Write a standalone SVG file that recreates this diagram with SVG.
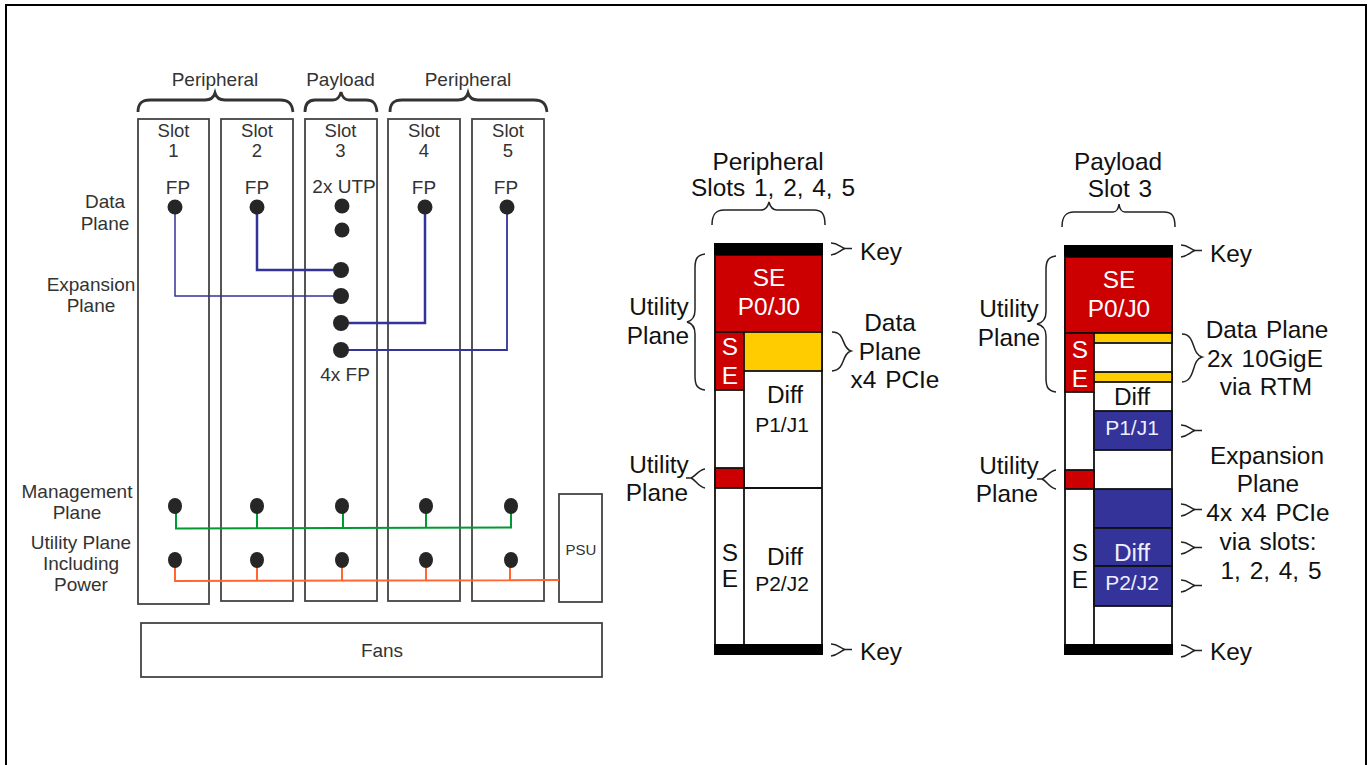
<svg xmlns="http://www.w3.org/2000/svg" width="1372" height="765" viewBox="0 0 1372 765">
<style>
text{font-family:"Liberation Sans",Arial,sans-serif;text-anchor:middle}
.g{fill:#333}
.s18{font-size:19px}.s17{font-size:18.500px}.s14{font-size:15px}
.k{fill:#111;font-size:24.400px;word-spacing:2px}.k20{fill:#111;font-size:21px}
.w{fill:#fff;font-size:24.400px}.w20{fill:#eef;font-size:21px}
.slot{fill:#fff;stroke:#444;stroke-width:1.800}
.dot{fill:#262626}
.brace{fill:none;stroke:#333;stroke-width:2.800}
.thin{fill:none;stroke:#222;stroke-width:1.500}
.cell{stroke:#111;stroke-width:1.800}
.bk{fill:#000}
.red{fill:#c00}.yel{fill:#fc0}.blu{fill:#339}.wht{fill:#fff}
.line{fill:none}
</style>
<rect x="6" y="5" width="1360" height="800" fill="#fff" stroke="#000" stroke-width="2"/>
<g id="slot1"><rect class="slot" x="138" y="119" width="71" height="485"/><text class="g s17" x="173.500" y="137">Slot</text><text class="g s17" x="173.500" y="157">1</text><text class="g s18" x="178" y="194">FP</text></g>
<g id="slot2"><rect class="slot" x="221" y="119" width="72" height="482"/><text class="g s17" x="257" y="137">Slot</text><text class="g s17" x="257" y="157">2</text><text class="g s18" x="257" y="194">FP</text></g>
<g id="slot3"><rect class="slot" x="305" y="119" width="72" height="482"/><text class="g s17" x="340.500" y="137">Slot</text><text class="g s17" x="340.500" y="157">3</text><text class="g s18" x="344" y="193">2x UTP</text><text class="g s18" x="345" y="381">4x FP</text></g>
<g id="slot4"><rect class="slot" x="388" y="119" width="72" height="482"/><text class="g s17" x="424" y="137">Slot</text><text class="g s17" x="424" y="157">4</text><text class="g s18" x="424" y="194">FP</text></g>
<g id="slot5"><rect class="slot" x="472" y="119" width="72" height="482"/><text class="g s17" x="508" y="137">Slot</text><text class="g s17" x="508" y="157">5</text><text class="g s18" x="506" y="194">FP</text></g>
<g id="psu"><rect class="slot" x="559" y="494" width="43" height="108"/><text class="g s14" x="581" y="555">PSU</text></g>
<g id="fans"><rect class="slot" x="141" y="623" width="461" height="54"/><text class="g s18" x="382" y="657">Fans</text></g>
<g id="connectors">
<path class="line" stroke="#339" stroke-width="1.500" d="M175 207V296H341"/>
<path class="line" stroke="#339" stroke-width="2.500" d="M257 207V270H341"/>
<path class="line" stroke="#339" stroke-width="2.500" d="M341 323H425V207"/>
<path class="line" stroke="#339" stroke-width="1.800" d="M341 350H507V207"/>
<path class="line" stroke="#093" stroke-width="2" d="M176 506V528.500L511 527.500V506M257 506V528M343 506V528M426 506V528"/>
<path class="line" stroke="#f63" stroke-width="2" d="M175 560V581L559 580M257 560V581M342 560V581M426 560V581M510 560V580"/>
</g>
<g id="dots">
<circle class="dot" cx="175" cy="207" r="7.500"/><circle class="dot" cx="257" cy="207" r="7.500"/><circle class="dot" cx="342" cy="206" r="7.500"/><circle class="dot" cx="342" cy="230" r="7.500"/><circle class="dot" cx="425" cy="207" r="7.500"/><circle class="dot" cx="507" cy="207" r="7.500"/>
<circle class="dot" cx="341" cy="270" r="8"/><circle class="dot" cx="341" cy="296" r="8"/><circle class="dot" cx="341" cy="323" r="8"/><circle class="dot" cx="341" cy="350" r="8"/>
<ellipse class="dot" cx="175" cy="506" rx="7" ry="8"/><ellipse class="dot" cx="257" cy="506" rx="7" ry="8"/><ellipse class="dot" cx="342" cy="506" rx="7" ry="8"/><ellipse class="dot" cx="426" cy="506" rx="7" ry="8"/><ellipse class="dot" cx="511" cy="506" rx="7" ry="8"/>
<ellipse class="dot" cx="175" cy="560" rx="7" ry="8"/><ellipse class="dot" cx="257" cy="560" rx="7" ry="8"/><ellipse class="dot" cx="342" cy="560" rx="7" ry="8"/><ellipse class="dot" cx="426" cy="560" rx="7" ry="8"/><ellipse class="dot" cx="511" cy="560" rx="7" ry="8"/>
</g>
<g id="left-labels">
<path class="brace" d="M138 112C138 103 142 100 150 100H205Q213 100 215 93Q217 100 225 100H280C288 100 292 103 293 112"/>
<path class="brace" d="M305 112C305 103 309 100 315 100H333Q339 100 341 92Q343 100 349 100H366C373 100 376 103 377 112"/>
<path class="brace" d="M390 112C390 103 394 100 402 100H458Q466 100 468 93Q470 100 478 100H534C542 100 546 103 547 112"/>
<text class="g s18" x="215" y="86">Peripheral</text><text class="g s18" x="340.500" y="86">Payload</text><text class="g s18" x="468" y="86">Peripheral</text>
<text class="g s18" x="105" y="208">Data</text><text class="g s18" x="105" y="230">Plane</text>
<text class="g s18" x="91" y="291">Expansion</text><text class="g s18" x="91" y="312">Plane</text>
<text class="g s18" x="77" y="498">Management</text><text class="g s18" x="77" y="519">Plane</text>
<text class="g s18" x="81" y="549">Utility Plane</text><text class="g s18" x="81" y="570">Including</text><text class="g s18" x="81" y="591">Power</text>
</g>
<g id="peripheral-connector">
<rect class="wht cell" x="715" y="255" width="107" height="390"/>
<rect class="red cell" x="715" y="255" width="107" height="77"/>
<rect class="red cell" x="715" y="332" width="29" height="58"/>
<rect class="yel cell" x="744" y="332" width="78" height="39"/>
<rect class="red cell" x="715" y="468" width="29" height="20"/>
<path class="cell" fill="none" d="M744 390V645M744 488H822"/>
<rect class="bk" x="714" y="243" width="109" height="12"/><rect class="bk" x="714" y="644" width="109" height="11"/>
<path class="thin" d="M712 225C712 214 716 210 724 210H761Q767 210 769 202Q771 210 777 210H814C822 210 825 214 825 225"/>
<path class="thin" d="M705 254C697 255 695 259 695 268V310Q695 320 687 322Q695 324 695 334V376C695 385 697 389 705 390"/>
<path class="thin" d="M831 243C838 243 840 247 845 248.500H852H845C840 250 838 254 831 255"/>
<path class="thin" d="M832 332C846 332 841 348 851 351C841 354 846 370 832 371"/>
<path class="thin" d="M705 469C698 470 696 476 691 478H686H691C696 480 698 487 705 488"/>
<path class="thin" d="M831 644C838 644 840 648 845 649.500H852H845C840 651 838 655 831 656"/>
<text class="k" x="768" y="170">Peripheral</text><text class="k" x="773" y="196">Slots 1, 2, 4, 5</text>
<text class="w" x="769" y="286">SE</text><text class="w" x="769" y="315">P0/J0</text>
<text class="w" x="730" y="355">S</text><text class="w" x="730" y="384">E</text>
<text class="k" x="785" y="403">Diff</text><text class="k20" x="782" y="432">P1/J1</text>
<text class="k" x="785" y="565">Diff</text><text class="k20" x="782" y="591">P2/J2</text>
<text class="k" x="730" y="561">S</text><text class="k" x="730" y="587">E</text>
<text class="k" x="659" y="315">Utility</text><text class="k" x="658" y="344">Plane</text>
<text class="k" x="659" y="473">Utility</text><text class="k" x="657" y="501">Plane</text>
<text class="k" x="890" y="331">Data</text><text class="k" x="890" y="360">Plane</text><text class="k" x="895" y="388">x4 PCIe</text>
<text class="k" x="881" y="260">Key</text><text class="k" x="881" y="660">Key</text>
</g>
<g id="payload-connector">
<rect class="wht cell" x="1065" y="257" width="107" height="388"/>
<rect class="red cell" x="1065" y="257" width="107" height="76"/>
<rect class="red cell" x="1065" y="333" width="29" height="59"/>
<rect class="yel cell" x="1094" y="333" width="78" height="10"/>
<rect class="yel cell" x="1094" y="372" width="78" height="10"/>
<rect class="blu cell" x="1094" y="411" width="78" height="39"/>
<rect class="red cell" x="1065" y="470" width="29" height="19"/>
<rect class="blu cell" x="1094" y="489" width="78" height="39"/>
<rect class="blu cell" x="1094" y="528" width="78" height="38"/>
<rect class="blu cell" x="1094" y="566" width="78" height="40"/>
<path class="cell" fill="none" d="M1094 392V645"/>
<rect class="bk" x="1064" y="245" width="109" height="12"/><rect class="bk" x="1064" y="644" width="109" height="11"/>
<path class="thin" d="M1062 227C1062 216 1066 212 1074 212H1113Q1118 212 1119 204Q1120 212 1125 212H1164C1172 212 1175 216 1175 227"/>
<path class="thin" d="M1056 256C1048 257 1046 261 1046 270V312Q1046 322 1037 324Q1046 326 1046 336V378C1046 387 1048 391 1056 392"/>
<path class="thin" d="M1181 245C1188 245 1190 249 1195 250.500H1202H1195C1190 252 1188 256 1181 257"/>
<path class="thin" d="M1182 334C1196 334 1191 354 1202 357C1191 360 1196 381 1182 382"/>
<path class="thin" d="M1181 425C1188 425 1190 429 1195 430.500H1202H1195C1190 432 1188 436 1181 437"/>
<path class="thin" d="M1181 504C1188 504 1190 508 1195 509.500H1202H1195C1190 511 1188 515 1181 516"/>
<path class="thin" d="M1181 542C1188 542 1190 546 1195 547.500H1202H1195C1190 549 1188 553 1181 554"/>
<path class="thin" d="M1181 580C1188 580 1190 584 1195 585.500H1202H1195C1190 587 1188 591 1181 592"/>
<path class="thin" d="M1056 470C1049 471 1047 477 1042 479H1037H1042C1047 481 1049 488 1056 489"/>
<path class="thin" d="M1181 645C1188 645 1190 649 1195 650.500H1202H1195C1190 652 1188 656 1181 657"/>
<text class="k" x="1118" y="170">Payload</text><text class="k" x="1120" y="197">Slot 3</text>
<text class="w" x="1119" y="288">SE</text><text class="w" x="1119" y="317">P0/J0</text>
<text class="w" x="1080" y="358">S</text><text class="w" x="1080" y="387">E</text>
<text class="k" x="1132" y="405">Diff</text><text class="w20" x="1132" y="435">P1/J1</text>
<text class="w" style="fill:#eef" x="1132" y="561">Diff</text><text class="w20" x="1132" y="590">P2/J2</text>
<text class="k" x="1080" y="561">S</text><text class="k" x="1080" y="588">E</text>
<text class="k" x="1009" y="317">Utility</text><text class="k" x="1009" y="346">Plane</text>
<text class="k" x="1009" y="474">Utility</text><text class="k" x="1007" y="502">Plane</text>
<text class="k" x="1267" y="338">Data Plane</text><text class="k" x="1265" y="367">2x 10GigE</text><text class="k" x="1266" y="395">via RTM</text>
<text class="k" x="1267" y="464">Expansion</text><text class="k" x="1268" y="492">Plane</text><text class="k" x="1268" y="521">4x x4 PCIe</text><text class="k" x="1268" y="550">via slots:</text><text class="k" x="1271" y="579">1, 2, 4, 5</text>
<text class="k" x="1231" y="262">Key</text><text class="k" x="1231" y="660">Key</text>
</g>
</svg>
